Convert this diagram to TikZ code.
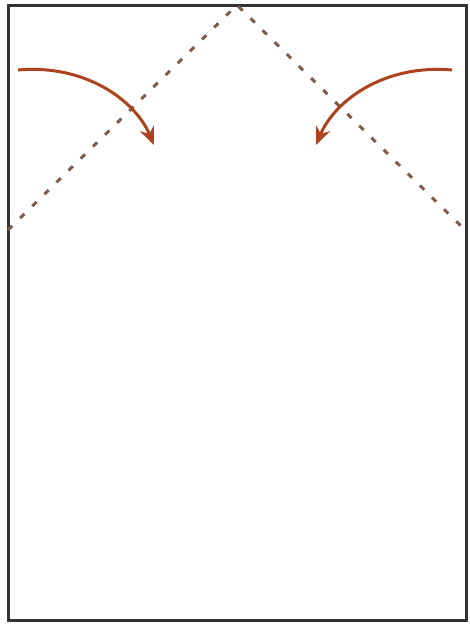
\documentclass[tikz,border=0pt]{standalone}
\usepackage{tikz}
\usetikzlibrary{arrows.meta}
\definecolor{foldline}{rgb}{0.50,0.36,0.30}
\definecolor{foldarrow}{rgb}{0.68,0.26,0.12}
\tikzset{
  sheet/.style={draw=black!80,line width=3pt},
  crease/.style={draw=foldline,line width=3pt,dash pattern=on 6pt off 11pt},
  turn/.style={draw=foldarrow,line width=3pt,-{Stealth[length=18pt,width=15pt]}}
}
\begin{document}
\begin{tikzpicture}[x=1pt,y=-1pt]
\useasboundingbox (0,0) rectangle (470,625);
% the sheet:
\path[sheet] (8,5) rectangle (466,620);
% creases:
\coordinate (apex) at (237,5);
\coordinate (cornerL) at (8,230);
\coordinate (cornerR) at (465,230);
\path[crease] (cornerL) -- (apex) -- (cornerR);
% fold arrows:
\coordinate (startL) at (18,70);
\coordinate (endL) at (154,145);
\coordinate (startR) at (452,70);
\coordinate (endR) at (316,145);
\path[turn] (startL) .. controls (85,64) and (135,100) .. (endL);
\path[turn] (startR) .. controls (385,64) and (335,100) .. (endR);
\end{tikzpicture}
\end{document}
